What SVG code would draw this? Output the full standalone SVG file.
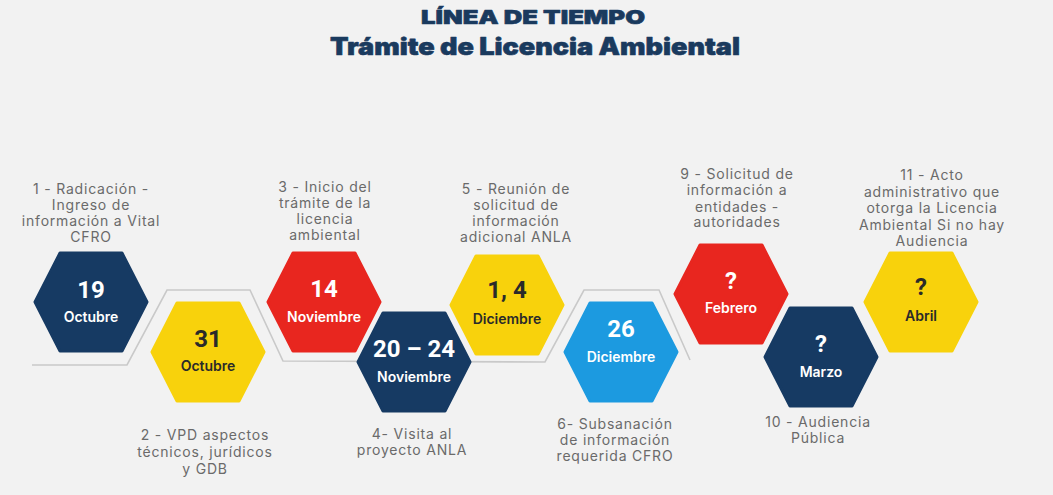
<svg xmlns="http://www.w3.org/2000/svg" xmlns:xlink="http://www.w3.org/1999/xlink" width="1053" height="495" viewBox="0 0 1053 495">
<style>
.bg{fill:#f2f2f2}
.title{font-family:Inter,Lato,"Liberation Sans",sans-serif;font-weight:900;fill:#1a3a5e;stroke:#1a3a5e;stroke-width:0.6;stroke-linejoin:round;text-anchor:middle}
.lbl{font-family:Inter,"Liberation Sans",sans-serif;font-size:14px;letter-spacing:0.8px;fill:#6a6a6a;text-anchor:middle}
.num{font-family:Roboto,"Liberation Sans",sans-serif;font-weight:700;font-size:24px;text-anchor:middle}
.mon{font-family:Inter,"Liberation Sans",sans-serif;font-weight:600;font-size:14px;text-anchor:middle}
.w{fill:#ffffff}
.d{fill:#2a2a2a}
.navy{fill:#163a63;stroke:#163a63}
.red{fill:#e8261f;stroke:#e8261f}
.yel{fill:#f8d20c;stroke:#f8d20c}
.blue{fill:#1c9ae0;stroke:#1c9ae0}
.hx{stroke-width:3;stroke-linejoin:round}
.conn{fill:none;stroke:#c9c9c9;stroke-width:1.6}
</style>
<defs>
<path id="hex" d="M-56,0 L-31,-49 L31,-49 L56,0 L31,49 L-31,49 Z"/>
</defs>
<rect class="bg" x="0" y="0" width="1053" height="495"/>
<g id="title">
<text class="title" x="533" y="23.5" font-size="19" textLength="224" lengthAdjust="spacingAndGlyphs">LÍNEA DE TIEMPO</text>
<text class="title" x="535" y="54.5" font-size="24" textLength="410" lengthAdjust="spacingAndGlyphs">Trámite de Licencia Ambiental</text>
</g>
<g id="connectors">
<polyline class="conn" points="32,365 127,365 167,290 250,290 283,361 545,362 584,290 659,290 690,360"/>
</g>
<g id="node1">
<use xlink:href="#hex" href="#hex" x="91" y="302" class="hx navy"/>
<text class="num w" x="91" y="298">19</text>
<text class="mon w" x="91" y="322">Octubre</text>
<text class="lbl" x="91" y="193.5">1 - Radicación  -</text>
<text class="lbl" x="91" y="209.5">Ingreso de</text>
<text class="lbl" x="91" y="226">información a Vital</text>
<text class="lbl" x="91" y="242">CFRO</text>
</g>
<g id="node2">
<use xlink:href="#hex" href="#hex" x="208" y="352" class="hx yel"/>
<text class="num d" x="208" y="347">31</text>
<text class="mon d" x="208" y="371">Octubre</text>
<text class="lbl" x="205" y="440">2 - VPD aspectos</text>
<text class="lbl" x="205" y="457">técnicos, jurídicos</text>
<text class="lbl" x="205" y="474">y GDB</text>
</g>
<g id="node3">
<use xlink:href="#hex" href="#hex" x="324" y="302" class="hx red"/>
<text class="num w" x="324" y="297">14</text>
<text class="mon w" x="324" y="322">Noviembre</text>
<text class="lbl" x="325" y="191.5">3 - Inicio del</text>
<text class="lbl" x="325" y="207.5">trámite  de la</text>
<text class="lbl" x="325" y="224">licencia</text>
<text class="lbl" x="325" y="240">ambiental</text>
</g>
<g id="node4">
<use xlink:href="#hex" href="#hex" x="414" y="362" class="hx navy"/>
<text class="num w" x="414" y="357">20 – 24</text>
<text class="mon w" x="414" y="382">Noviembre</text>
<text class="lbl" x="412" y="438.5">4- Visita al</text>
<text class="lbl" x="412" y="455">proyecto ANLA</text>
</g>
<g id="node5">
<use xlink:href="#hex" href="#hex" x="507" y="305" class="hx yel"/>
<text class="num d" x="507" y="298">1, 4</text>
<text class="mon d" x="507" y="323.5">Diciembre</text>
<text class="lbl" x="516" y="193.5">5 - Reunión de</text>
<text class="lbl" x="516" y="209.5">solicitud de</text>
<text class="lbl" x="516" y="226">información</text>
<text class="lbl" x="516" y="242">adicional ANLA</text>
</g>
<g id="node6">
<use xlink:href="#hex" href="#hex" x="621" y="352" class="hx blue"/>
<text class="num w" x="621" y="337">26</text>
<text class="mon w" x="621" y="362">Diciembre</text>
<text class="lbl" x="615" y="428.5">6- Subsanación</text>
<text class="lbl" x="615" y="445">de información</text>
<text class="lbl" x="615" y="461">requerida CFRO</text>
</g>
<g id="node7">
<use xlink:href="#hex" href="#hex" x="731" y="294" class="hx red"/>
<text class="num w" x="731" y="288.5">?</text>
<text class="mon w" x="731" y="313">Febrero</text>
<text class="lbl" x="737" y="178.5">9 - Solicitud de</text>
<text class="lbl" x="737" y="195">información a</text>
<text class="lbl" x="737" y="211.5">entidades -</text>
<text class="lbl" x="737" y="227">autoridades</text>
</g>
<g id="node8">
<use xlink:href="#hex" href="#hex" x="821" y="357" class="hx navy"/>
<text class="num w" x="821" y="352">?</text>
<text class="mon w" x="821" y="377">Marzo</text>
<text class="lbl" x="818" y="427">10 - Audiencia</text>
<text class="lbl" x="818" y="443">Pública</text>
</g>
<g id="node9">
<use xlink:href="#hex" href="#hex" x="921" y="302" class="hx yel"/>
<text class="num d" x="921" y="295">?</text>
<text class="mon d" x="921" y="321">Abril</text>
<text class="lbl" x="932" y="180">11 - Acto</text>
<text class="lbl" x="932" y="196.5">administrativo que</text>
<text class="lbl" x="932" y="213">otorga la Licencia</text>
<text class="lbl" x="932" y="230">Ambiental Si no hay</text>
<text class="lbl" x="932" y="246">Audiencia</text>
</g>
</svg>
